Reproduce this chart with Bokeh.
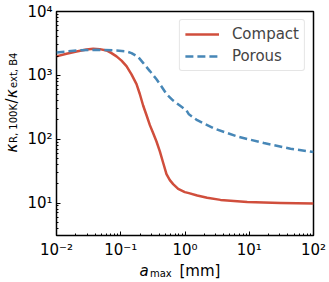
import math
from bokeh.plotting import figure
from bokeh.layouts import row, column
from bokeh.models import Label, Legend, LegendItem, CustomJSTickFormatter, Range1d
from bokeh.embed import file_html
from bokeh.resources import INLINE

# ---- data ----
a_compact = [0.01, 0.0143, 0.0205, 0.0293, 0.0372, 0.0472, 0.06, 0.0718, 0.0859,
             0.1028, 0.1228, 0.147, 0.176, 0.198, 0.223, 0.252, 0.284, 0.32, 0.36,
             0.406, 0.457, 0.515, 0.581, 0.654, 0.783, 0.994, 1.15, 1.55, 2.21,
             3.57, 9.3, 30.7, 100.0]
k_compact = [1984, 2180, 2367, 2541, 2603, 2573, 2453, 2232, 1984,
             1701, 1392, 1036, 727, 510, 337, 237, 166, 124, 92,
             64.6, 42.7, 28.3, 22.8, 19.8, 16.6, 14.8, 14.3, 13.1, 12.1,
             11.2, 10.4, 10.0, 9.8]

a_porous = [0.01, 0.0205, 0.042, 0.0859, 0.1228, 0.147, 0.187, 0.223, 0.284,
            0.36, 0.431, 0.515, 0.654, 0.831, 1.055, 1.15, 1.55, 2.8, 6.5,
            16.9, 43.9, 100.0]
k_porous = [2285, 2453, 2512, 2453, 2367, 2232, 1938, 1566, 1166,
            868, 669, 510, 403, 337, 282, 245, 198, 148, 110,
            87, 71, 63]

series_names = ["Compact", "Porous"]
x_range = (1e-2, 1e2)
y_range = (3.1, 1e4)

FONT = "DejaVu Sans"
RED = "#d04e3c"
BLUE = "#4787b7"

H_MAIN = 261
p = figure(width=307, height=H_MAIN, x_axis_type="log", y_axis_type="log",
           x_range=x_range, y_range=y_range,
           output_backend="svg", toolbar_location=None,
           min_border_left=36, min_border_right=14, min_border_top=11, min_border_bottom=22)
p.background_fill_color = "white"
p.border_fill_color = "white"
p.outline_line_color = "black"
p.outline_line_width = 1.5
p.grid.grid_line_color = None

r1 = p.line(a_compact, k_compact, line_color=RED, line_width=2.5, line_join="round")
r2 = p.line(a_porous, k_porous, line_color=BLUE, line_width=2.5, line_dash="8 4")

fmt = CustomJSTickFormatter(code="""
const sup = {"-":"\u207b","0":"\u2070","1":"\u00b9","2":"\u00b2","3":"\u00b3","4":"\u2074",
             "5":"\u2075","6":"\u2076","7":"\u2077","8":"\u2078","9":"\u2079"};
const e = Math.round(Math.log10(tick));
return "10" + String(e).split("").map(c => sup[c]).join("");
""")

for ax in (p.xaxis[0], p.yaxis[0]):
    ax.formatter = fmt
    ax.axis_line_color = None
    ax.major_tick_in = 4
    ax.major_tick_out = 0
    ax.minor_tick_in = 2
    ax.minor_tick_out = 0
    ax.major_tick_line_color = "black"
    ax.minor_tick_line_color = "black"
    ax.major_label_text_font = FONT
    ax.major_label_text_font_size = "15px"
    ax.major_label_text_color = "black"
p.xaxis[0].major_label_standoff = 5
p.yaxis[0].major_label_standoff = 4

legend = Legend(items=[LegendItem(label=series_names[0], renderers=[r1]),
                       LegendItem(label=series_names[1], renderers=[r2])],
                location="top_right")
legend.margin = 8
legend.label_text_font = FONT
legend.label_text_font_size = "15px"
legend.label_height = 18
legend.glyph_height = 18
legend.glyph_width = 34
legend.label_standoff = 13
legend.spacing = 4
legend.padding = 5
legend.border_line_color = "#cccccc"
legend.border_line_width = 1
legend.background_fill_alpha = 0.8
if "border_radius" in Legend.properties():
    legend.border_radius = 3
p.add_layout(legend)


def blank(w, h):
    f = figure(width=w, height=h, x_range=Range1d(0, 1), y_range=Range1d(0, 1),
               x_axis_location=None, y_axis_location=None,
               output_backend="svg", toolbar_location=None,
               min_border=0, min_border_left=0, min_border_right=0,
               min_border_top=0, min_border_bottom=0)
    f.outline_line_color = None
    f.grid.visible = False
    f.background_fill_color = "white"
    f.border_fill_color = "white"
    return f


def lab(f, x, y, text, size, italic=False, angle=0.0):
    f.add_layout(Label(x=x, y=y, x_units="screen", y_units="screen", text=text,
                       angle=angle, text_font=FONT, text_font_size=size,
                       text_font_style="italic" if italic else "normal",
                       text_color="black", text_baseline="alphabetic", text_align="left"))


# ---- y axis label: kappa_{R, 100K} / kappa_{ext, B4} ----
ylab = blank(20, H_MAIN)
ang = math.pi / 2
lab(ylab, 11, 83, "\u03ba", "15px", italic=True, angle=ang)
lab(ylab, 13, 92.5, "R, 100K", "10px", angle=ang)
lab(ylab, 11, 132, "/", "15px", angle=ang)
lab(ylab, 11, 137.5, "\u03ba", "15px", italic=True, angle=ang)
lab(ylab, 13, 147.5, "ext, B4", "10px", angle=ang)

# ---- x axis label: a_max [mm] ----
xlab = blank(327, 19)
lab(xlab, 139, 9.5, "a", "15px", italic=True)
lab(xlab, 149.5, 7.5, "max", "10px")
lab(xlab, 179, 9.5, "[mm]", "15px")

layout = column(row(ylab, p, spacing=0), xlab, spacing=0)

open("out.html", "w").write(file_html(layout, INLINE))
